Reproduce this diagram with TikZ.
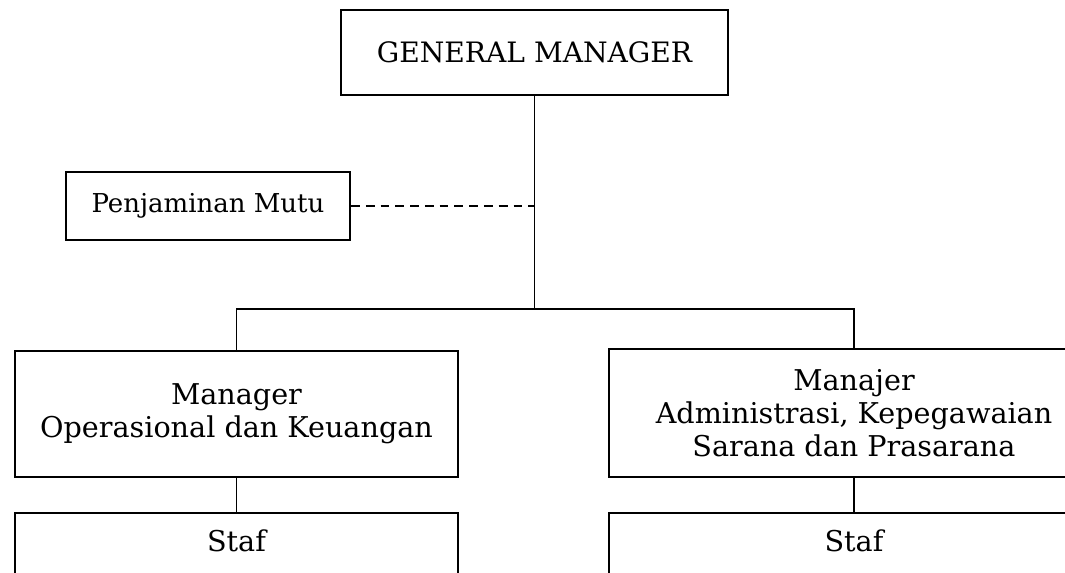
\documentclass[tikz,border=0pt]{standalone}
\usepackage{fontspec}
\setmainfont{DejaVu Serif}
\begin{document}
\begin{tikzpicture}[x=0.02cm,y=-0.02cm,
  box/.style={draw,line width=1.35pt,rectangle,inner sep=0pt,align=center},
  conn/.style={line width=1.05pt},
  dashconn/.style={line width=1.05pt,dash pattern=on 5pt off 3.4pt},
  txt/.style={font=\fontsize{16.3}{18.8}\selectfont}]
\useasboundingbox (0,0) rectangle (1065,572);
\clip (0,0) rectangle (1065,572);
\node[box,minimum width=7.74cm,minimum height=1.7cm,font=\fontsize{16}{18.8}\selectfont] (gm) at (534.5,52.5) {GENERAL MANAGER};
\node[box,minimum width=5.68cm,minimum height=1.36cm,font=\fontsize{14.8}{17}\selectfont] (pm) at (208,206) {Penjaminan Mutu};
\node[box,minimum width=8.86cm,minimum height=2.52cm,txt] (mo) at (236.5,414) {Manager\\Operasional dan Keuangan};
\node[box,minimum width=9.8cm,minimum height=2.56cm,txt] (ma) at (854,413) {Manajer\\Administrasi, Kepegawaian\\Sarana dan Prasarana};
\node[box,minimum width=8.86cm,minimum height=1.4cm] (s1) at (236.5,548) {};
\node[box,minimum width=9.8cm,minimum height=1.4cm] (s2) at (854,548) {};
\node[txt] (s1t) at (236.5,541) {Staf};
\node[txt] (s2t) at (854,541) {Staf};
\coordinate (bar) at (534.5,309);
\draw[conn] (gm.south) -- (bar);
\draw[conn] (mo.north) |- (bar) -| (ma.north);
\draw[dashconn] (pm.east) -- (gm.south |- pm.east);
\draw[conn] (mo.south) -- (s1.north);
\draw[conn] (ma.south) -- (s2.north);
\end{tikzpicture}
\end{document}
